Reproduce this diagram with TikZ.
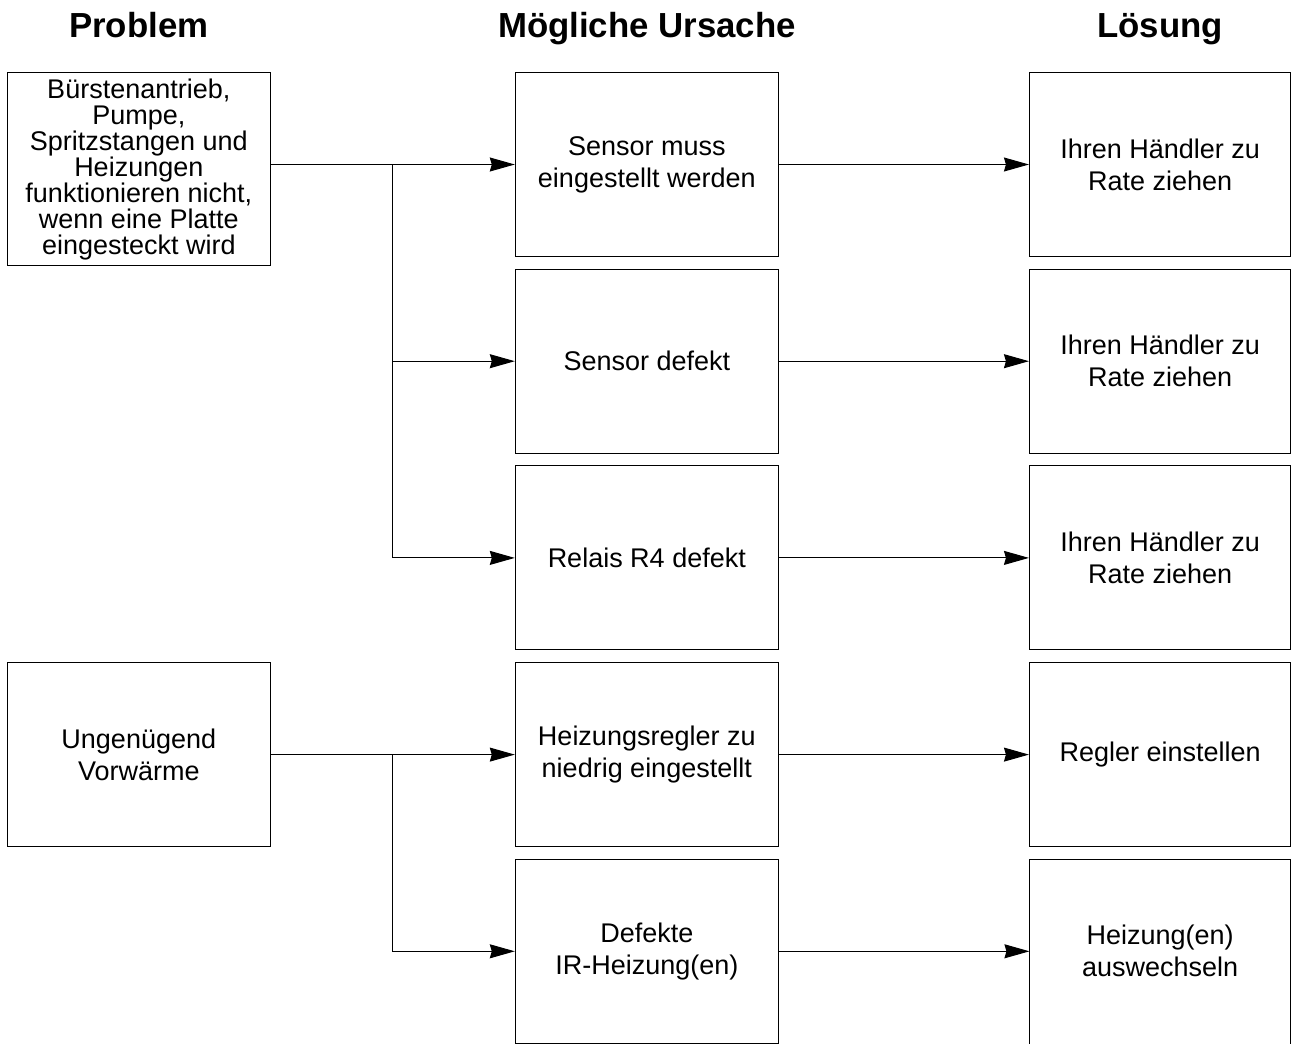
\documentclass[tikz,border=0pt]{standalone}
\usepackage{fontspec}
\setmainfont{Liberation Sans}
\usetikzlibrary{arrows.meta,positioning}

\begin{document}
\begin{tikzpicture}[x=0.5pt,y=-0.5pt,line width=0.5pt,
    box/.style={draw,rectangle,inner sep=2pt,minimum width=131.5pt,minimum height=92pt,
      align=center,font=\fontsize{13.5}{16}\selectfont},
    hdr/.style={anchor=base,font=\fontsize{17.4}{20}\bfseries\selectfont},
    arr/.style={-{Stealth[length=12.5pt,width=7pt,inset=1pt]}}]
    % \draw[help lines] (0,0) grid[step=100] (1292,1044);
    \useasboundingbox (0,0) rectangle (1292,1044);
    % headers
    \node[hdr] (h1) at (138.8,37) {Problem};
    \node[hdr] (h2) at (647,37) {Mögliche Ursache};
    \node[hdr] (h3) at (1160,37) {Lösung};
    % problems
    \node[box,minimum height=96.5pt,font=\fontsize{13.5}{13}\selectfont] (p1) at (138.8,169.2)
      {Bürstenantrieb,\\Pumpe,\\Spritzstangen und\\Heizungen\\funktionieren nicht,\\wenn eine Platte\\eingesteckt wird};
    \node[box] (p2) at (138.8,754.8) {Ungenügend\\Vorwärme};
    % causes
    \node[box] (m1) at (646.8,164.5) {Sensor muss\\eingestellt werden};
    \node[box] (m2) at (646.8,361.2) {Sensor defekt};
    \node[box] (m3) at (646.8,557.9) {Relais R4 defekt};
    \node[box] (m4) at (646.8,754.6) {Heizungsregler zu\\niedrig eingestellt};
    \node[box] (m5) at (646.8,951.3) {Defekte\\IR-Heizung(en)};
    % solutions
    \node[box,minimum width=130.75pt] (r1) at (1160.2,164.5) {Ihren Händler zu\\Rate ziehen};
    \node[box,minimum width=130.75pt] (r2) at (1160.2,361.2) {Ihren Händler zu\\Rate ziehen};
    \node[box,minimum width=130.75pt] (r3) at (1160.2,557.9) {Ihren Händler zu\\Rate ziehen};
    \node[box,minimum width=130.75pt] (r4) at (1160.2,754.6) {Regler einstellen};
    \node[box,draw=none,outer sep=0pt,minimum width=130.75pt] (r5) at (1160.2,951.3) {Heizung(en)\\auswechseln};
    \draw ([yshift=-2pt]r5.south west) -- (r5.north west) -- (r5.north east) -- ([yshift=-2pt]r5.south east);
    % branches
    \coordinate (j1) at (392,164.5);
    \coordinate (j2) at (392,754.6);
    \draw[arr] (p1.east |- m1.west) -- (m1.west);
    \draw (j1) -- (j1 |- m3.west);
    \draw[arr] (j1 |- m2.west) -- (m2.west);
    \draw[arr] (j1 |- m3.west) -- (m3.west);
    \draw[arr] (p2.east |- m4.west) -- (m4.west);
    \draw (j2) -- (j2 |- m5.west);
    \draw[arr] (j2 |- m5.west) -- (m5.west);
    \foreach \i in {1,...,5}
      \draw[arr] (m\i.east) -- (r\i.west);
\end{tikzpicture}
\end{document}
